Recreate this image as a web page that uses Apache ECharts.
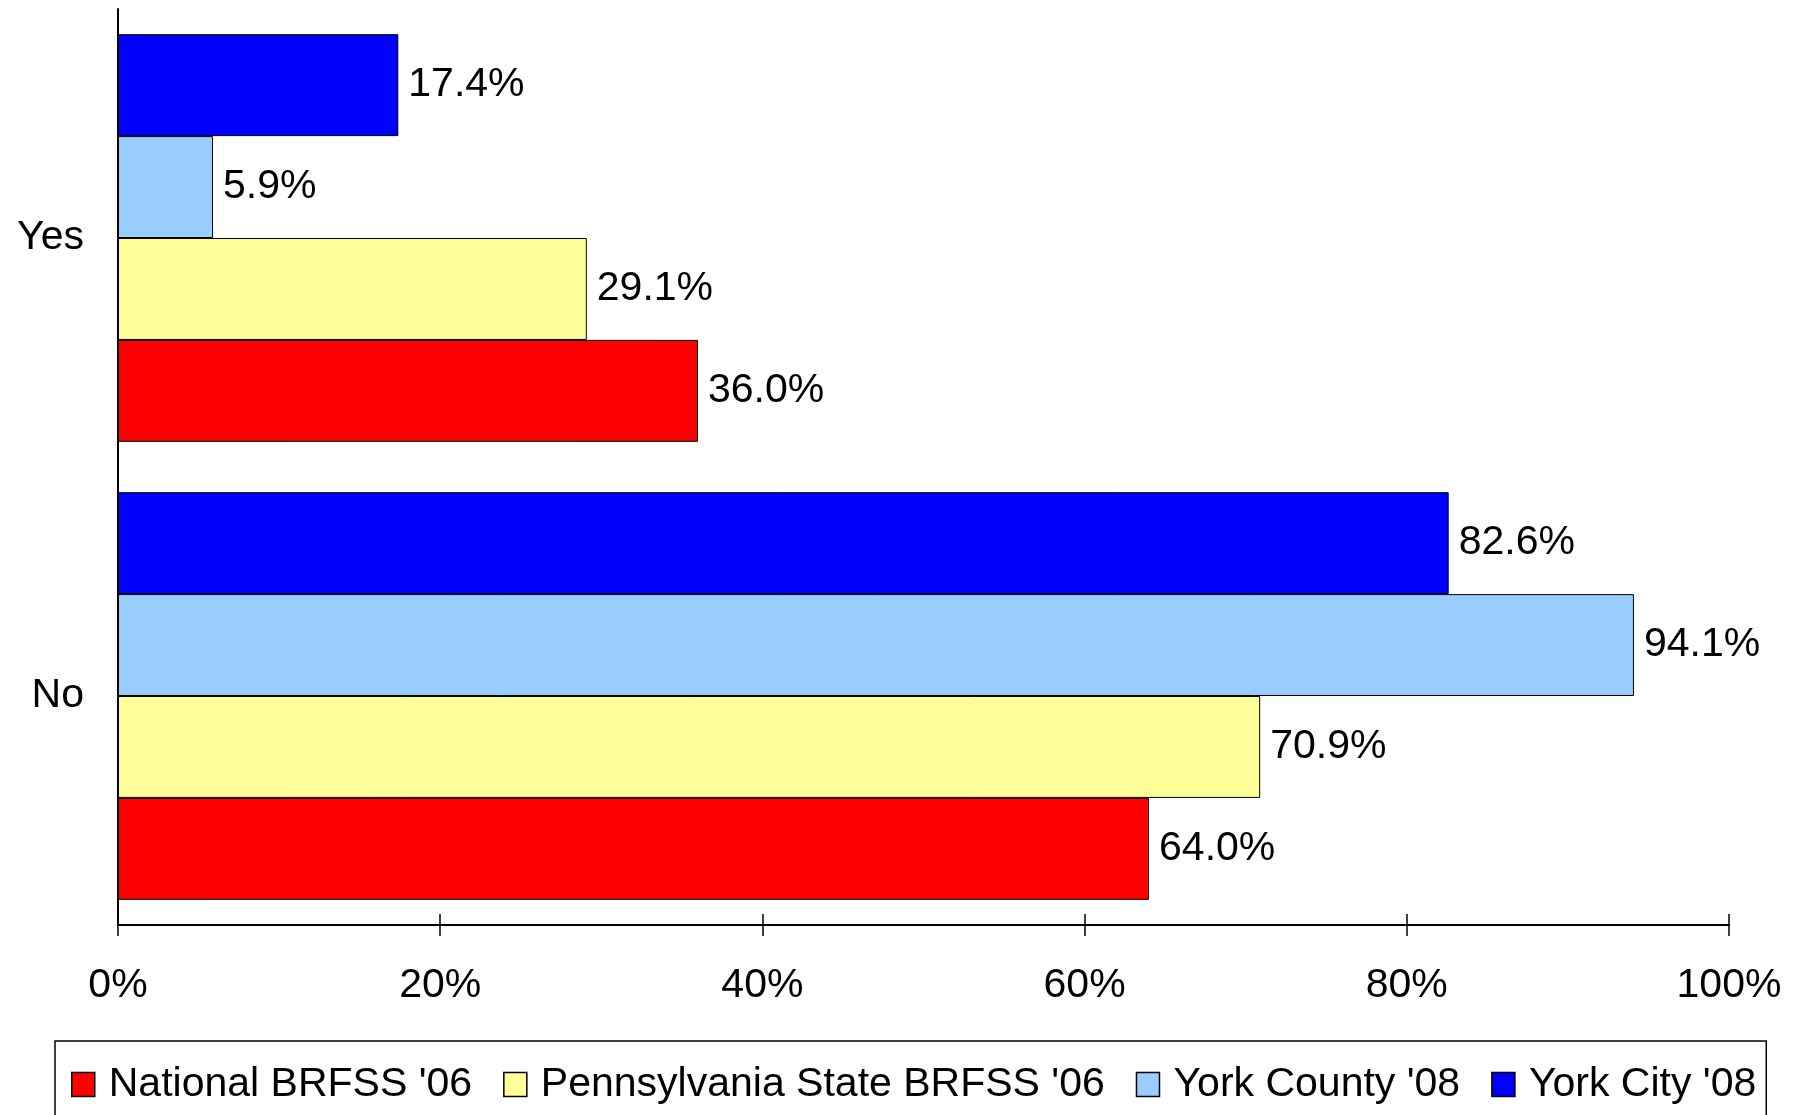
<!DOCTYPE html>
<html>
<head>
<meta charset="utf-8">
<script src="https://cdn.jsdelivr.net/npm/echarts@6/dist/echarts.min.js"></script>
<style>
html,body{margin:0;padding:0;background:#fff;}
#chart{width:1801px;height:1115px;}
</style>
</head>
<body>
<div id="chart"></div>
<script>
const categories = ['No', 'Yes'];
const seriesNames = ["National BRFSS '06", "Pennsylvania State BRFSS '06", "York County '08", "York City '08"];
const nationalValues = [64.0, 36.0];
const pennsylvaniaValues = [70.9, 29.1];
const yorkCountyValues = [94.1, 5.9];
const yorkCityValues = [82.6, 17.4];
const xTickValues = [0, 20, 40, 60, 80, 100];
const seriesColors = ['#FF0000', '#FFFF99', '#99CCFF', '#0000FF'];

const FONT = "'Liberation Sans', Arial, sans-serif";
const chart = echarts.init(document.getElementById('chart'), null, {renderer: 'canvas'});

const dataSets = [nationalValues, pennsylvaniaValues, yorkCountyValues, yorkCityValues];
// ECharts stacks horizontal bar series top-down, so add them in reverse to put National at the bottom
const order = [3, 2, 1, 0];
const series = order.map(i => ({
  name: seriesNames[i],
  type: 'bar',
  data: dataSets[i],
  barGap: '0%',
  barCategoryGap: '11%',
  itemStyle: {color: seriesColors[i], borderColor: '#000', borderWidth: 1},
  label: {
    show: true, position: 'right', distance: 10,
    color: '#000', fontFamily: FONT, fontSize: 41,
    formatter: p => p.value.toFixed(1) + '%'
  },
  emphasis: {disabled: true}
}));

chart.setOption({
  animation: false,
  backgroundColor: '#fff',
  grid: {left: 118, right: 72, top: 9, bottom: 190, containLabel: false},
  xAxis: [{
    type: 'value', min: xTickValues[0], max: xTickValues[xTickValues.length - 1], interval: 20,
    axisLine: {show: true, lineStyle: {color: '#000', width: 2}},
    axisTick: {show: true, inside: false, length: 11, lineStyle: {color: '#000', width: 1.5}},
    splitLine: {show: false},
    axisLabel: {margin: 40, color: '#000', fontFamily: FONT, fontSize: 41, formatter: '{value}%'}
  }, {
    type: 'value', position: 'bottom', min: xTickValues[0], max: xTickValues[xTickValues.length - 1], interval: 20,
    axisLine: {show: false},
    axisTick: {show: true, inside: true, length: 11, lineStyle: {color: '#000', width: 1.5}},
    splitLine: {show: false},
    axisLabel: {show: false}
  }],
  yAxis: {
    type: 'category', data: categories,
    axisLine: {show: true, lineStyle: {color: '#000', width: 2}},
    axisTick: {show: false},
    axisLabel: {margin: 34, color: '#000', fontFamily: FONT, fontSize: 41}
  },
  legend: {
    data: seriesNames,
    left: 55, top: 1041,
    orient: 'horizontal',
    icon: 'rect',
    itemWidth: 23, itemHeight: 24,
    itemGap: 31,
    padding: [23, 10, 60, 16],
    borderColor: '#000', borderWidth: 1.5,
    textStyle: {color: '#000', fontFamily: FONT, fontSize: 41, padding: [0, 0, 0, 9]},
    itemStyle: {borderColor: '#000', borderWidth: 1.5}
  },
  series: series
});
</script>
</body>
</html>
